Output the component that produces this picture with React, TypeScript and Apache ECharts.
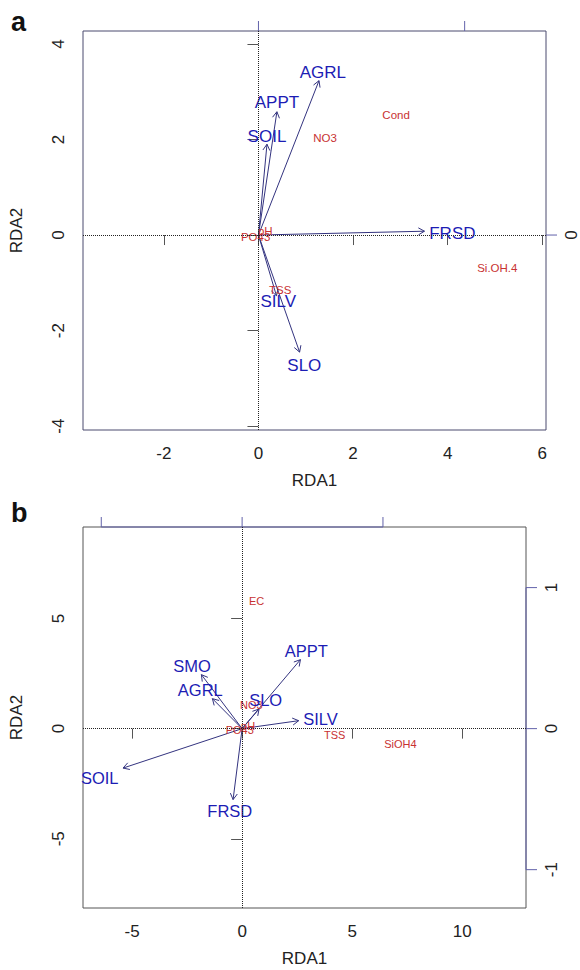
import React, { useEffect, useRef } from "react";
import * as echarts from "echarts";

// ---------- Panel a ----------
const xTicksA = [-2, 0, 2, 4, 6];
const yTicksA = [-4, -2, 0, 2, 4];
const secScaleA = 4.36; // one unit of the top/right axes in RDA units
const topTicksA = [0, 1];
const rightTicksA = [0];

const arrowNamesA = ["AGRL", "APPT", "SOIL", "FRSD", "SILV", "SLO"];
const arrowXA = [1.28, 0.39, 0.18, 3.51, 0.38, 0.87];
const arrowYA = [3.23, 2.58, 1.9, 0.08, -1.27, -2.45];
const labelXA = [1.36, 0.39, 0.18, 4.1, 0.42, 0.97];
const labelYA = [3.4, 2.78, 2.07, 0.04, -1.4, -2.73];

const envNamesA = ["Cond", "NO3", "pH", "PO43", "TSS", "Si.OH.4"];
const envXA = [2.91, 1.41, 0.145, -0.06, 0.46, 5.05];
const envYA = [2.52, 2.04, 0.08, -0.05, -1.15, -0.68];

// ---------- Panel b ----------
const xTicksB = [-5, 0, 5, 10];
const yTicksB = [-5, 0, 5];
const secScaleB = 6.4;
const topTicksB = [-1, 0, 1];
const rightTicksB = [-1, 0, 1];

const arrowNamesB = ["SOIL", "FRSD", "SMO", "AGRL", "APPT", "SLO", "SILV"];
const arrowXB = [-5.41, -0.41, -1.85, -1.35, 2.65, 0.77, 2.57];
const arrowYB = [-1.79, -3.22, 2.45, 1.36, 3.13, 0.89, 0.36];
const labelXB = [-6.47, -0.56, -2.28, -1.9, 2.92, 1.07, 3.56];
const labelYB = [-2.24, -3.75, 2.86, 1.74, 3.54, 1.28, 0.44];

const envNamesB = ["EC", "NO3", "pH", "PO43", "TSS", "SiOH4"];
const envXB = [0.66, 0.42, 0.27, -0.11, 4.21, 7.19];
const envYB = [5.81, 1.06, 0.1, -0.08, -0.27, -0.68];

// ---------- styling ----------
const FONT = "'Liberation Sans', Arial, sans-serif";
const BLUE = "#1c1cb4";
const ARROW = "#33337f";
const RED = "#c83232";
const AXIS2 = "#6262aa";

const rangeA = { xmin: -3.71, xmax: 6.08, ymin: -4.08, ymax: 4.27 };
const rangeB = { xmin: -7.23, xmax: 12.9, ymin: -8.14, ymax: 9.15 };

function arrowRender(params: any, api: any) {
  const x = api.value(0);
  const y = api.value(1);
  const p0 = api.coord([0, 0]);
  const p1 = api.coord([x, y]);
  const ang = Math.atan2(p1[1] - p0[1], p1[0] - p0[0]);
  const L = 7;
  const a = Math.PI / 6;
  const h1 = [p1[0] - L * Math.cos(ang - a), p1[1] - L * Math.sin(ang - a)];
  const h2 = [p1[0] - L * Math.cos(ang + a), p1[1] - L * Math.sin(ang + a)];
  return {
    type: "group",
    children: [
      {
        type: "line",
        shape: { x1: p0[0], y1: p0[1], x2: p1[0], y2: p1[1] },
        style: { stroke: ARROW, lineWidth: 1 },
      },
      {
        type: "polyline",
        shape: { points: [h1, p1, h2] },
        style: { stroke: ARROW, fill: "none", lineWidth: 1 },
      },
    ],
  };
}

// secondary-axis ticks (top: side 0, right: side 1)
function tickSeries(xi: number, yi: number, r: any, top: number[], right: number[], scale: number) {
  const data = [
    ...top.map((t) => [t * scale, 0]),
    ...right.map((t) => [t * scale, 1]),
  ];
  return {
    type: "custom",
    xAxisIndex: xi,
    yAxisIndex: yi,
    silent: true,
    clip: false,
    renderItem: (params: any, api: any) => {
      const v = api.value(0);
      const side = api.value(1);
      if (side === 0) {
        const p = api.coord([v, r.ymax]);
        return { type: "line", shape: { x1: p[0], y1: p[1], x2: p[0], y2: p[1] - 10 }, style: { stroke: AXIS2, lineWidth: 1 } };
      }
      const p = api.coord([r.xmax, v]);
      return { type: "line", shape: { x1: p[0], y1: p[1], x2: p[0] + 11, y2: p[1] }, style: { stroke: AXIS2, lineWidth: 1 } };
    },
    data,
  };
}

function bottomAxis(gridIndex: number, r: any, ticks: number[]) {
  return {
    type: "value",
    gridIndex,
    position: "bottom",
    min: r.xmin,
    max: r.xmax,
    name: "RDA1",
    nameLocation: "middle",
    nameGap: 42,
    nameTextStyle: { fontFamily: FONT, fontSize: 17, color: "#222" },
    axisLine: { show: false },
    axisTick: { show: true, inside: false, length: 10, customValues: ticks, lineStyle: { color: "#555" } },
    axisLabel: { show: true, customValues: ticks, margin: 15, fontFamily: FONT, fontSize: 17, color: "#222" },
    splitLine: { show: false },
  };
}

function leftAxis(gridIndex: number, r: any, ticks: number[]) {
  return {
    type: "value",
    gridIndex,
    position: "left",
    min: r.ymin,
    max: r.ymax,
    name: "RDA2",
    nameLocation: "middle",
    nameRotate: 90,
    nameGap: 58,
    nameTextStyle: { fontFamily: FONT, fontSize: 17, color: "#222" },
    axisLine: { show: false },
    axisTick: { show: true, inside: false, length: 11, customValues: ticks, lineStyle: { color: "#555" } },
    axisLabel: { show: true, customValues: ticks, rotate: 90, margin: 16, fontFamily: FONT, fontSize: 17, color: "#222" },
    splitLine: { show: false },
  };
}

function rightAxis(gridIndex: number, r: any, ticks: number[], scale: number) {
  const vals = ticks.map((t) => t * scale);
  return {
    type: "value",
    gridIndex,
    position: "right",
    min: r.ymin,
    max: r.ymax,
    axisLine: { show: false },
    axisTick: { show: false },
    axisLabel: {
      show: true,
      customValues: vals,
      rotate: 90,
      margin: 17,
      fontFamily: FONT,
      fontSize: 17,
      color: "#222",
      formatter: (v: number) => String(Math.round(v / scale)),
    },
    splitLine: { show: false },
  };
}

function labelSeries(xi: number, yi: number, names: string[], xs: number[], ys: number[], color: string, size: number, withZero: boolean) {
  const s: any = {
    type: "scatter",
    xAxisIndex: xi,
    yAxisIndex: yi,
    symbol: "circle",
    symbolSize: 1,
    itemStyle: { color: "rgba(0,0,0,0)", opacity: 1 },
    label: {
      show: true,
      position: "inside",
      formatter: (p: any) => p.name,
      color,
      opacity: 1,
      fontSize: size,
      fontFamily: FONT,
      textBorderWidth: 0,
    },
    emphasis: { disabled: true },
    silent: true,
    data: names.map((n, i) => ({ name: n, value: [xs[i], ys[i]] })),
  };
  if (withZero) {
    s.markLine = {
      silent: true,
      symbol: ["none", "none"],
      label: { show: false },
      lineStyle: { type: "dotted", color: "#222", width: 1 },
      data: [{ xAxis: 0 }, { yAxis: 0 }],
    };
  }
  return s;
}

function segSeries(xi: number, yi: number, pts: number[][]) {
  return {
    type: "line",
    xAxisIndex: xi,
    yAxisIndex: yi,
    symbol: "none",
    clip: false,
    silent: true,
    lineStyle: { color: AXIS2, width: 1 },
    data: pts,
  };
}

export default function App() {
  const ref = useRef<HTMLDivElement>(null);
  useEffect(() => {
    document.body.style.margin = "0";
    const chart = echarts.init(ref.current!, null, { renderer: "svg" });
    const option: any = {
      animation: false,
      backgroundColor: "#ffffff",
      textStyle: { fontFamily: FONT },
      graphic: [
        { type: "text", left: 11, top: 8, style: { text: "a", font: `bold 27px ${FONT}`, fill: "#111" } },
        { type: "text", left: 11, top: 499, style: { text: "b", font: `bold 27px ${FONT}`, fill: "#111" } },
      ],
      grid: [
        { left: 83, top: 31, width: 466, height: 399, show: true, borderColor: "#4a4a6e", borderWidth: 1, backgroundColor: "#fff" },
        { left: 83, top: 527, width: 443, height: 381, show: true, borderColor: "#555", borderWidth: 1, backgroundColor: "#fff" },
      ],
      xAxis: [
        bottomAxis(0, rangeA, xTicksA),
        bottomAxis(1, rangeB, xTicksB),
      ],
      yAxis: [
        leftAxis(0, rangeA, yTicksA),
        rightAxis(0, rangeA, rightTicksA, secScaleA),
        leftAxis(1, rangeB, yTicksB),
        rightAxis(1, rangeB, rightTicksB, secScaleB),
      ],
      series: [
        // panel a
        tickSeries(0, 0, rangeA, topTicksA, rightTicksA, secScaleA),
        {
          type: "custom",
          xAxisIndex: 0,
          yAxisIndex: 0,
          renderItem: arrowRender,
          silent: true,
          data: arrowXA.map((x, i) => [x, arrowYA[i]]),
        },
        labelSeries(0, 0, envNamesA, envXA, envYA, RED, 11.5, true),
        labelSeries(0, 0, arrowNamesA, labelXA, labelYA, BLUE, 17, false),
        // panel b
        segSeries(1, 2, [[topTicksB[0] * secScaleB, rangeB.ymax], [topTicksB[topTicksB.length - 1] * secScaleB, rangeB.ymax]]),
        segSeries(1, 2, [[rangeB.xmax, rightTicksB[0] * secScaleB], [rangeB.xmax, rightTicksB[rightTicksB.length - 1] * secScaleB]]),
        tickSeries(1, 2, rangeB, topTicksB, rightTicksB, secScaleB),
        {
          type: "custom",
          xAxisIndex: 1,
          yAxisIndex: 2,
          renderItem: arrowRender,
          silent: true,
          data: arrowXB.map((x, i) => [x, arrowYB[i]]),
        },
        labelSeries(1, 2, envNamesB, envXB, envYB, RED, 11, true),
        labelSeries(1, 2, arrowNamesB, labelXB, labelYB, BLUE, 16.5, false),
      ],
    };
    chart.setOption(option);
    return () => chart.dispose();
  }, []);
  return <div ref={ref} style={{ position: "absolute", left: 0, top: 0, width: 580, height: 970 }} />;
}
